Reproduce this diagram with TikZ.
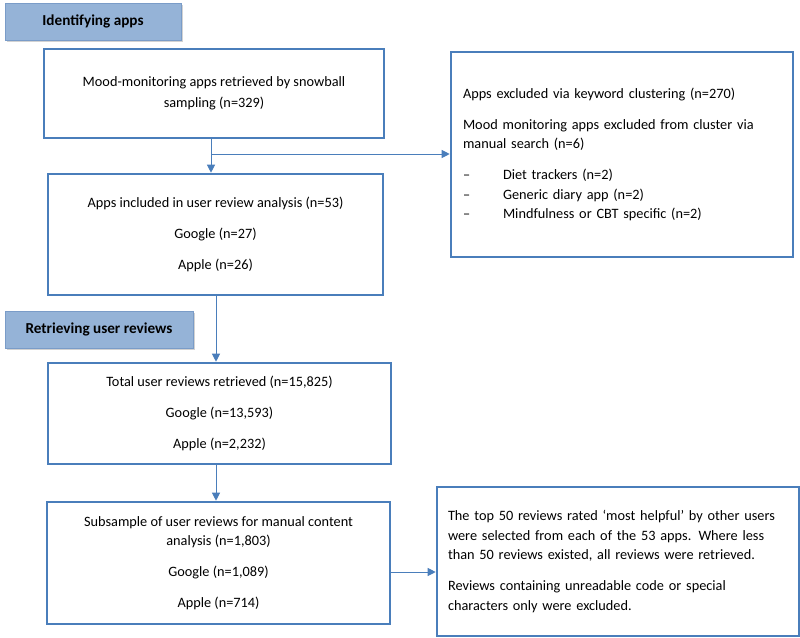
\documentclass[tikz,border=0pt]{standalone}
\usepackage{fontspec}
\setmainfont{Carlito}
\usetikzlibrary{arrows.meta,shadows}
\definecolor{boxblue}{HTML}{4A7EBB}
\definecolor{hdrfill}{HTML}{95B3D7}
\definecolor{hdrline}{HTML}{7A9CC8}
\newcommand{\fsz}{\fontsize{14.3pt}{19.5pt}\selectfont}
\newcommand{\hsz}{\fontsize{15.2pt}{19pt}\selectfont}
\begin{document}
\begin{tikzpicture}[x=1pt,y=-1pt,
  box/.style={draw=boxblue,line width=2.6pt,inner sep=0pt,align=center,font=\fsz},
  hdr/.style={draw=hdrline,line width=0.8pt,fill=hdrfill,inner sep=0pt,font=\hsz\bfseries,
    drop shadow={shadow xshift=1.5pt,shadow yshift=-2pt,fill=black!35}},
  arr/.style={draw=boxblue,line width=1pt,-{Triangle[length=8pt,width=8pt]}}]
\useasboundingbox (0,0) rectangle (800,637);
\fill[white] (0,0) rectangle (800,637);
% headers
\node[hdr,minimum width=176pt,minimum height=37pt] (h1) at (93,21.5) {Identifying apps};
\node[hdr,minimum width=188pt,minimum height=37pt] (h2) at (99,329.5) {Retrieving user reviews};
% main boxes
\node[box,minimum width=340pt,minimum height=89pt] (b1) at (214,93.5)
  {Mood-monitoring apps retrieved by snowball\\[1.5pt]sampling (n=329)};
\node[box,minimum width=335pt,minimum height=121pt] (b2) at (215.5,234.5)
  {Apps included in user review analysis (n=53)\\[11.5pt]Google (n=27)\\[11.5pt]Apple (n=26)};
\node[box,minimum width=343pt,minimum height=101pt] (b3) at (219.5,413.5)
  {Total user reviews retrieved (n=15,825)\\[11.5pt]Google (n=13,593)\\[11.5pt]Apple (n=2,232)};
\node[box,minimum width=343pt,minimum height=122pt] (b4) at (218.5,563)
  {Subsample of user reviews for manual content\\analysis (n=1,803)\\[11.5pt]Google (n=1,089)\\[11.5pt]Apple (n=714)};
% side boxes
\node[box,minimum width=342pt,minimum height=205pt,align=left,text width=318pt] (ex) at (622,154.5)
  {Apps excluded via keyword clustering (n=270)\\[11.5pt]
   Mood monitoring apps excluded from cluster via\\manual search (n=6)\\[11.5pt]
   \makebox[40pt][l]{--}Diet trackers (n=2)\\
   \makebox[40pt][l]{--}Generic diary app (n=2)\\
   \makebox[40pt][l]{--}Mindfulness or CBT specific (n=2)};
\node[box,minimum width=362pt,minimum height=149pt,align=left,text width=340pt] (b5) at (618,561.5)
  {The top 50 reviews rated ‘most helpful’ by other users\\
   were selected from each of the 53 apps. Where less\\
   than 50 reviews existed, all reviews were retrieved.\\[11.5pt]
   Reviews containing unreadable code or special\\
   characters only were excluded.};
% connectors
\coordinate (j1) at (211,154);
\coordinate (j2) at (216,330);
\coordinate (j3) at (390,572);
\draw[draw=boxblue,line width=1pt] (b1.south -| j1) -- (j1);
\draw[arr] (j1) -- (b2.north -| j1);
\draw[arr] (j1) -- (ex.west |- j1);
\draw[arr] (b2.south -| j2) -- (b3.north -| j2);
\draw[arr] (b3.south -| j2) -- (b4.north -| j2);
\draw[arr] (b4.east |- j3) -- (b5.west |- j3);
\end{tikzpicture}
\end{document}
